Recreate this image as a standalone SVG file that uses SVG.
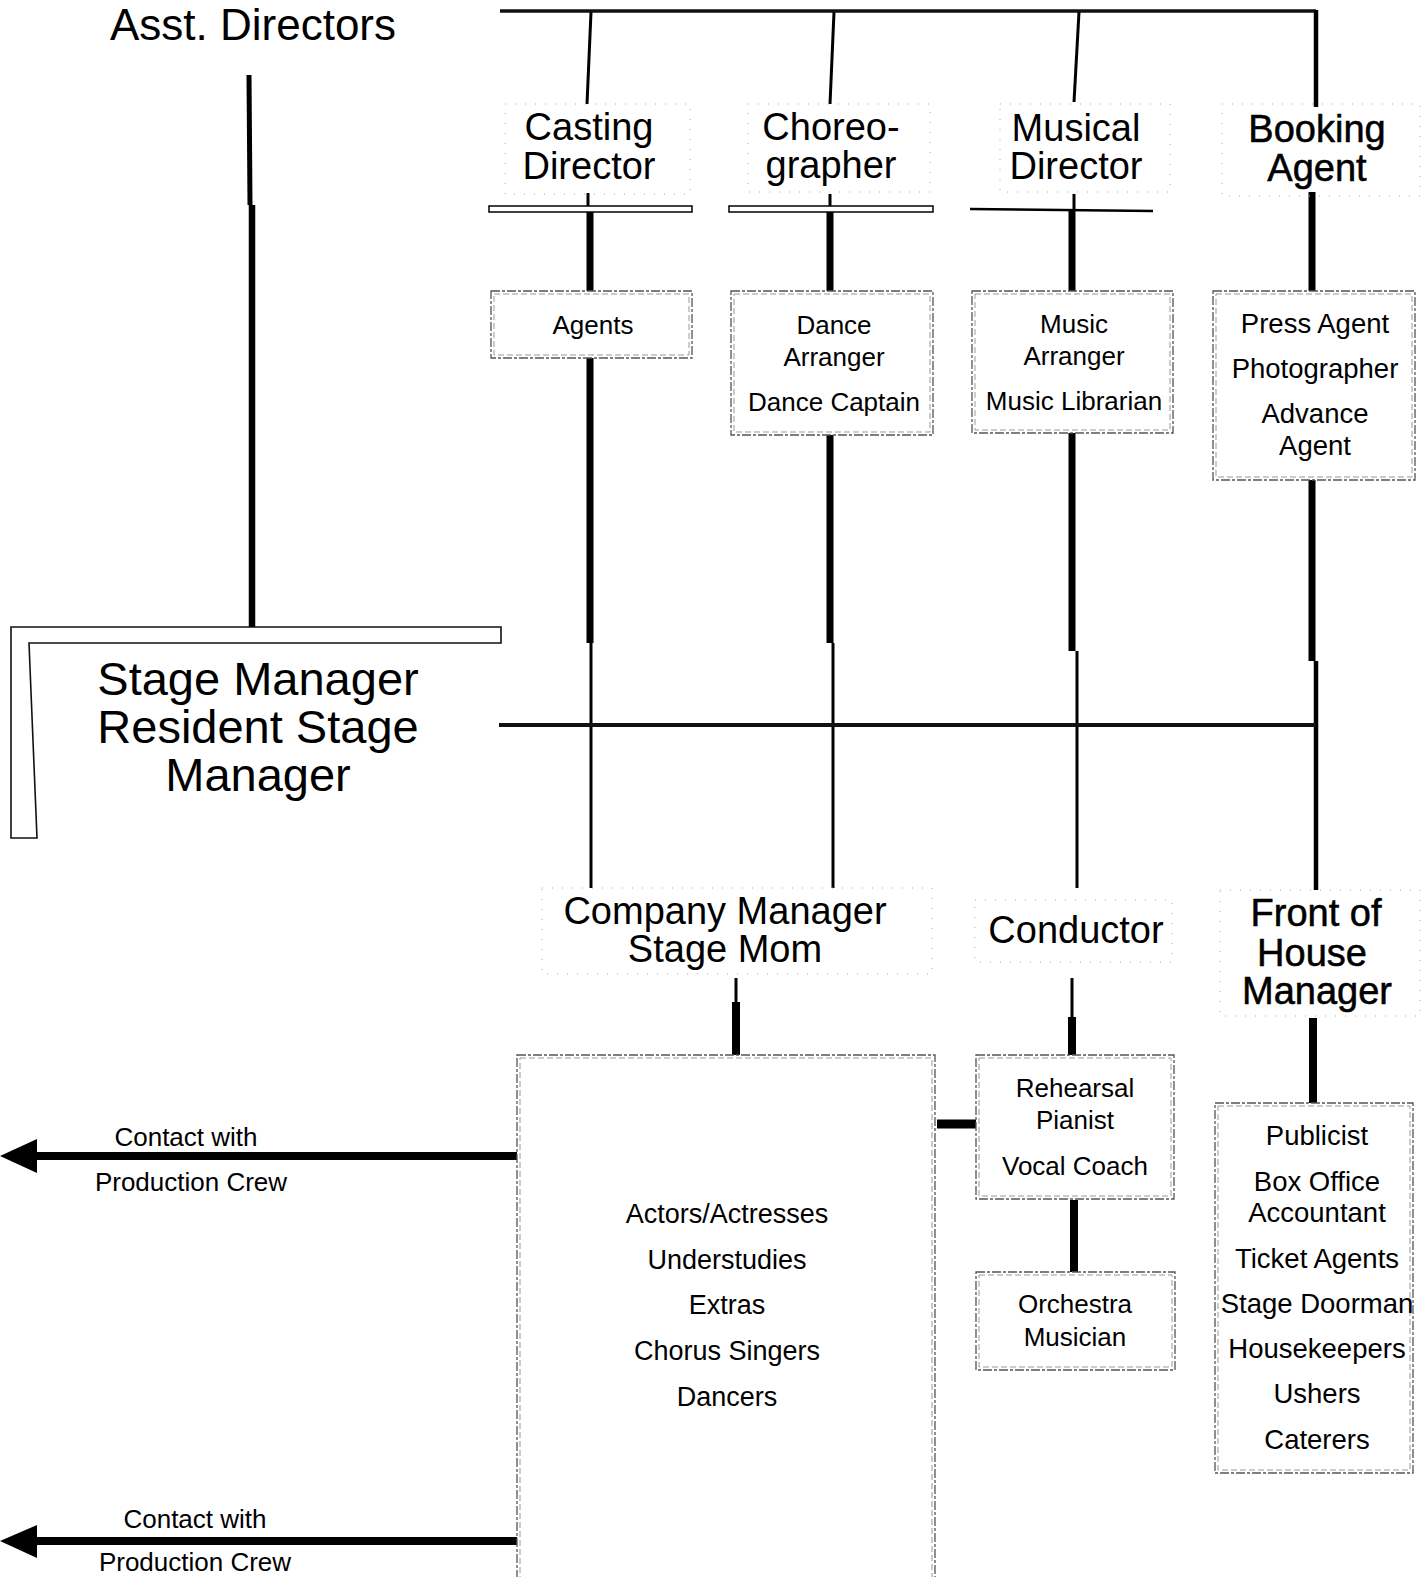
<svg xmlns="http://www.w3.org/2000/svg" width="1425" height="1577" viewBox="0 0 1425 1577">
<style>
  text { font-family: "Liberation Sans", Arial, Helvetica, sans-serif; fill: #000; text-anchor: middle; }
  .big { font-size: 47px; }
  .hd { font-size: 38px; }
  .hdb { font-size: 38px; stroke: #000; stroke-width: 0.55px; }
  .sm { font-size: 26px; }
  .md { font-size: 27.5px; }
  .ac { font-size: 27px; }
  .lbl { font-size: 26px; }
  .thick { stroke: #000; stroke-width: 7; fill: none; }
  .thin { stroke: #000; stroke-width: 3; fill: none; }
  .bus { stroke: #111; stroke-width: 3.5; fill: none; }
  .bo { fill: none; stroke: #555; stroke-width: 1.3; stroke-dasharray: 9 2 3 2; }
  .bi { fill: none; stroke: #999; stroke-width: 1; stroke-dasharray: 6 3; }
  .faint { fill: none; stroke: #aaa; stroke-width: 1; stroke-dasharray: 1 9; }
  .bar { fill: #fff; stroke: #111; stroke-width: 1.6; }
</style>
<rect width="1425" height="1577" fill="#fff"/>

<g id="connectors">
  <!-- top bus -->
  <path class="bus" d="M500,11 H1316"/>
  <path d="M1316,10 V107" stroke="#000" stroke-width="4.5" fill="none"/>
  <path class="thin" d="M591,12 L587,104"/>
  <path class="thin" d="M834,12 L830,104"/>
  <path class="thin" d="M1079,12 L1074,102"/>
  <!-- stubs under header labels -->
  <path class="thin" d="M588,193 V207"/>
  <path class="thin" d="M830,194 V207"/>
  <path class="thin" d="M1074,194 V209"/>
  <!-- bars -->
  <rect class="bar" x="489" y="206" width="203" height="6"/>
  <rect class="bar" x="729" y="206" width="204" height="6"/>
  <path d="M970,209 L1153,211" stroke="#000" stroke-width="2.5" fill="none"/>
  <!-- level1 -> level2 -->
  <path class="thick" d="M590,212 V291"/>
  <path class="thick" d="M830,212 V291"/>
  <path class="thick" d="M1072,211 V291"/>
  <path class="thick" d="M1312,192 V291"/>
  <!-- level2 -> mid bus -->
  <path class="thick" d="M590,358 V643"/>
  <path class="thin" d="M591,643 V888"/>
  <path class="thick" d="M830,435 V643"/>
  <path class="thin" d="M833,643 V888"/>
  <path class="thick" d="M1072,433 V651"/>
  <path class="thin" d="M1077,651 V888"/>
  <path class="thick" d="M1312,480 V661"/>
  <path d="M1316,661 V890" stroke="#000" stroke-width="4.5" fill="none"/>
  <!-- mid bus -->
  <path d="M499,725 H1316" stroke="#111" stroke-width="4" fill="none"/>
  <!-- asst directors line -->
  <path d="M249,75 L250,205" stroke="#000" stroke-width="5" fill="none"/>
  <path d="M252,205 V627" stroke="#000" stroke-width="6.5" fill="none"/>
  <!-- level3 -> level4 -->
  <path class="thin" d="M736,978 V1002"/>
  <path d="M736,1002 V1055" stroke="#000" stroke-width="8" fill="none"/>
  <path class="thin" d="M1072,978 V1017"/>
  <path d="M1072,1017 V1055" stroke="#000" stroke-width="8" fill="none"/>
  <path d="M1313,1018 V1103" stroke="#000" stroke-width="8" fill="none"/>
  <!-- actors -> rehearsal -->
  <path d="M937,1124 H976" stroke="#000" stroke-width="9" fill="none"/>
  <!-- rehearsal -> orchestra -->
  <path d="M1074,1200 V1272" stroke="#000" stroke-width="8" fill="none"/>
  <!-- arrows -->
  <path d="M517,1156 H34" stroke="#000" stroke-width="8" fill="none"/>
  <polygon points="0,1156 37,1139 37,1173" fill="#000"/>
  <path d="M517,1541 H34" stroke="#000" stroke-width="8" fill="none"/>
  <polygon points="0,1541 37,1525 37,1558" fill="#000"/>
</g>

<g id="asst-directors">
  <text x="253" y="40" style="font-size:44px">Asst. Directors</text>
</g>

<g id="stage-manager">
  <polygon points="11,627 501,627 501,643 29,643 37,838 11,838" fill="#fff" stroke="#111" stroke-width="1.6"/>
  <text class="big" x="258" y="695">Stage Manager</text>
  <text class="big" x="258" y="743">Resident Stage</text>
  <text class="big" x="258" y="791">Manager</text>
</g>

<g id="casting-director">
  <rect class="faint" x="505" y="104" width="185" height="90"/>
  <text class="hd" x="589" y="140">Casting</text>
  <text class="hd" x="589" y="179">Director</text>
</g>
<g id="choreographer">
  <rect class="faint" x="748" y="104" width="182" height="88"/>
  <text class="hd" x="831" y="140">Choreo-</text>
  <text class="hd" x="831" y="178">grapher</text>
</g>
<g id="musical-director">
  <rect class="faint" x="1000" y="104" width="170" height="88"/>
  <text class="hd" x="1076" y="141">Musical</text>
  <text class="hd" x="1076" y="179">Director</text>
</g>
<g id="booking-agent">
  <rect class="faint" x="1222" y="104" width="198" height="92"/>
  <text class="hdb" x="1317" y="142">Booking</text>
  <text class="hdb" x="1317" y="181">Agent</text>
</g>

<g id="agents">
  <rect class="bo" x="491" y="291" width="201" height="67"/>
  <rect class="bi" x="494" y="294" width="195" height="61"/>
  <text class="sm" x="593" y="334">Agents</text>
</g>
<g id="dance">
  <rect class="bo" x="731" y="291" width="202" height="144"/>
  <rect class="bi" x="734" y="294" width="196" height="138"/>
  <text class="sm" x="834" y="334">Dance</text>
  <text class="sm" x="834" y="366">Arranger</text>
  <text class="sm" x="834" y="411">Dance Captain</text>
</g>
<g id="music">
  <rect class="bo" x="972" y="291" width="201" height="142"/>
  <rect class="bi" x="975" y="294" width="195" height="136"/>
  <text class="sm" x="1074" y="333">Music</text>
  <text class="sm" x="1074" y="365">Arranger</text>
  <text class="sm" x="1074" y="410">Music Librarian</text>
</g>
<g id="press">
  <rect class="bo" x="1213" y="291" width="202" height="189"/>
  <rect class="bi" x="1216" y="294" width="196" height="183"/>
  <text class="md" x="1315" y="333">Press Agent</text>
  <text class="md" x="1315" y="378">Photographer</text>
  <text class="md" x="1315" y="423">Advance</text>
  <text class="md" x="1315" y="455">Agent</text>
</g>

<g id="company-manager">
  <rect class="faint" x="542" y="888" width="390" height="86"/>
  <text class="hd" x="725" y="924">Company Manager</text>
  <text class="hd" x="725" y="962">Stage Mom</text>
</g>
<g id="conductor">
  <rect class="faint" x="975" y="900" width="197" height="62"/>
  <text class="hd" x="1076" y="943">Conductor</text>
</g>
<g id="front-of-house">
  <rect class="faint" x="1220" y="890" width="200" height="126"/>
  <text class="hdb" x="1316" y="926">Front of</text>
  <text class="hdb" x="1312" y="966">House</text>
  <text class="hdb" x="1317" y="1004">Manager</text>
</g>

<g id="actors">
  <rect class="bo" x="517" y="1055" width="418" height="540"/>
  <rect class="bi" x="520" y="1058" width="412" height="534"/>
  <text class="ac" x="727" y="1223">Actors/Actresses</text>
  <text class="ac" x="727" y="1269">Understudies</text>
  <text class="ac" x="727" y="1314">Extras</text>
  <text class="ac" x="727" y="1360">Chorus Singers</text>
  <text class="ac" x="727" y="1406">Dancers</text>
</g>
<g id="rehearsal">
  <rect class="bo" x="976" y="1055" width="198" height="144"/>
  <rect class="bi" x="979" y="1058" width="192" height="138"/>
  <text class="sm" x="1075" y="1097">Rehearsal</text>
  <text class="sm" x="1075" y="1129">Pianist</text>
  <text class="sm" x="1075" y="1175">Vocal Coach</text>
</g>
<g id="orchestra">
  <rect class="bo" x="976" y="1272" width="199" height="98"/>
  <rect class="bi" x="979" y="1275" width="193" height="92"/>
  <text class="sm" x="1075" y="1313">Orchestra</text>
  <text class="sm" x="1075" y="1346">Musician</text>
</g>
<g id="foh-staff">
  <rect class="bo" x="1215" y="1103" width="198" height="370"/>
  <rect class="bi" x="1218" y="1106" width="192" height="364"/>
  <text class="md" x="1317" y="1145">Publicist</text>
  <text class="md" x="1317" y="1191">Box Office</text>
  <text class="md" x="1317" y="1222">Accountant</text>
  <text class="md" x="1317" y="1268">Ticket Agents</text>
  <text class="md" x="1317" y="1313">Stage Doorman</text>
  <text class="md" x="1317" y="1358">Housekeepers</text>
  <text class="md" x="1317" y="1403">Ushers</text>
  <text class="md" x="1317" y="1449">Caterers</text>
</g>

<g id="contact-upper">
  <text class="lbl" x="186" y="1146">Contact with</text>
  <text class="lbl" x="191" y="1191">Production Crew</text>
</g>
<g id="contact-lower">
  <text class="lbl" x="195" y="1528">Contact with</text>
  <text class="lbl" x="195" y="1571">Production Crew</text>
</g>
</svg>
